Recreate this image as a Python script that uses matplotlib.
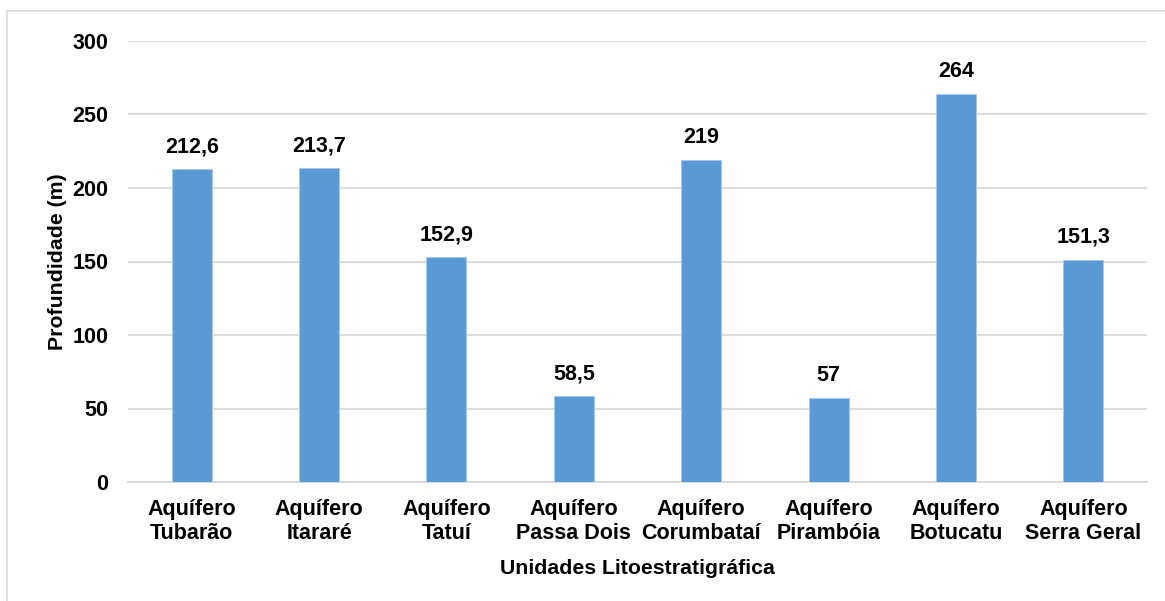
import matplotlib
matplotlib.use("Agg")
import matplotlib.pyplot as plt
from matplotlib.patches import Rectangle

plt.rcParams['font.family'] = ['Liberation Sans', 'DejaVu Sans']
plt.rcParams['font.weight'] = 'bold'

categories = ["Aquífero\nTubarão", "Aquífero\nItararé", "Aquífero\nTatuí",
              "Aquífero\nPassa Dois", "Aquífero\nCorumbataí", "Aquífero\nPirambóia",
              "Aquífero\nBotucatu", "Aquífero\nSerra Geral"]
values = [212.6, 213.7, 152.9, 58.5, 219, 57, 264, 151.3]
value_labels = ["212,6", "213,7", "152,9", "58,5", "219", "57", "264", "151,3"]
yticks = [0, 50, 100, 150, 200, 250, 300]

W, H = 1165, 601
fig = plt.figure(figsize=(W / 100, H / 100), dpi=100)
ax = fig.add_axes([128 / W, 1 - 482 / H, (1147 - 128) / W, (482 - 41) / H])

# outer chart frame
fig.patches.append(Rectangle((7 / W, -0.05), 1.1, 1 - 11 / H + 0.05,
                             transform=fig.transFigure, fill=False,
                             edgecolor='#d9d9d9', linewidth=1.2))

x = list(range(len(categories)))
bars = ax.bar(x, values, width=0.315, color='#5b9bd5',
              edgecolor='#a9c8ea', linewidth=0.6, zorder=3)

for xi, v, lab in zip(x, values, value_labels):
    ax.annotate(lab, (xi, v), xytext=(0, 8.5), textcoords='offset points',
                ha='center', va='bottom', fontsize=15.5, fontweight='bold')

ax.set_xlim(-0.5, len(categories) - 0.5)
ax.set_ylim(0, 300)
ax.set_yticks(yticks)
ax.set_yticklabels([str(t) for t in yticks])
ax.set_xticks(x)
ax.set_xticklabels(categories, fontsize=15.5, fontweight='bold', linespacing=1.22)
ax.tick_params(axis='y', length=0, pad=14, labelsize=15.5)
ax.tick_params(axis='x', length=0, pad=12)

ax.grid(axis='y', color='#d9d9d9', linewidth=1.3, zorder=0)
for s in ['top', 'right', 'left']:
    ax.spines[s].set_visible(False)
ax.spines['bottom'].set_color('#d9d9d9')
ax.spines['bottom'].set_linewidth(1.3)

ax.set_ylabel("Profundidade (m)", fontsize=15.3, fontweight='bold', labelpad=4)
ax.set_xlabel("Unidades Litoestratigráfica", fontsize=15.3, fontweight='bold', labelpad=11)

fig.savefig("out.png", dpi=100)
